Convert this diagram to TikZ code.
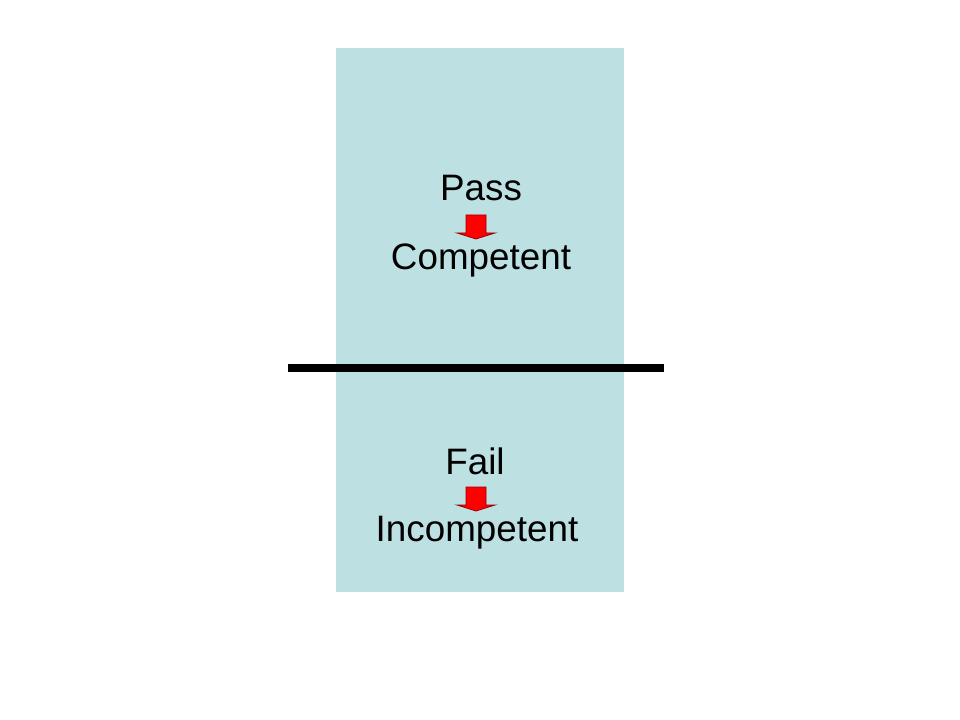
\documentclass[tikz,border=0pt]{standalone}
\usepackage{fontspec}
\setmainfont{Liberation Sans}
\definecolor{panel}{RGB}{189,224,227}
\definecolor{arrowred}{RGB}{255,0,0}
\begin{document}
\begin{tikzpicture}[x=0.75pt,y=-0.75pt,
  lbl/.style={anchor=base,inner sep=0pt,font=\fontsize{27.6}{32}\selectfont},
  downarrow/.style={fill=arrowred,draw=red!60!black,line width=0.6pt,line join=miter}]
\useasboundingbox (0,0) rectangle (960,720);
\fill[white] (0,0) rectangle (960,720);
\fill[panel] (336,48) rectangle (624,592);
\coordinate (L) at (288,368);
\coordinate (R) at (664,368);
\draw[line width=6pt] (L) -- (R);
\node[lbl] (pass) at (481,201) {Pass};
\node[lbl] (comp) at (481,270) {Competent};
\node[lbl] (fail) at (475,474) {Fail};
\node[lbl] (incomp) at (477,541) {Incompetent};
% arrows
\coordinate (a1) at (476,215);
\coordinate (a2) at (476,487);
\foreach \c in {a1,a2}{
  \path[downarrow] (\c) ++(-10,0) -- ++(20,0) -- ++(0,18) -- ++(9,0) -- ++(-19,6) -- ++(-19,-6) -- ++(9,0) -- cycle;
}
\end{tikzpicture}
\end{document}
